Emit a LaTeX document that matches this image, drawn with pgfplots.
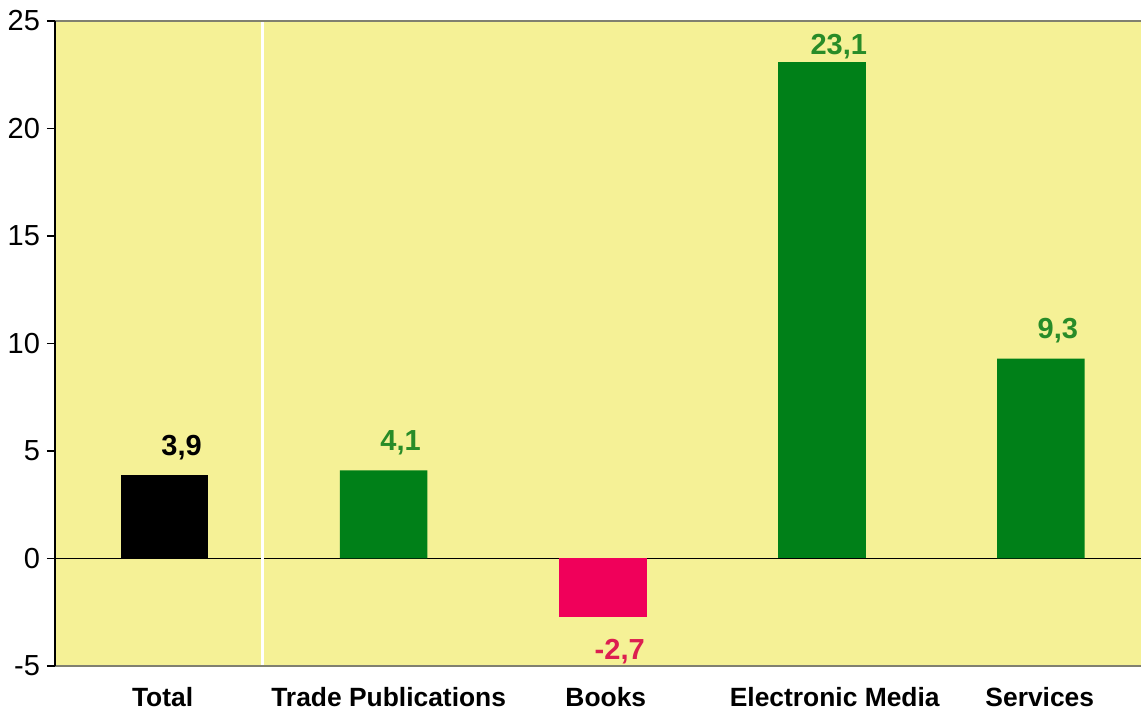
\documentclass[border=0pt]{standalone}
\usepackage{pgfplots}
\pgfplotsset{compat=1.18}
\usepackage{fontspec}
\setmainfont{Liberation Sans}
\definecolor{bg}{RGB}{245,241,150}
\definecolor{bargreen}{RGB}{0,128,24}
\definecolor{barpink}{RGB}{240,0,90}
\definecolor{txtgreen}{RGB}{40,140,40}
\definecolor{txtred}{RGB}{220,30,80}
\definecolor{bordergray}{RGB}{128,128,112}
\begin{document}
\begin{tikzpicture}
\begin{axis}[
  scale only axis, width=543pt, height=322.5pt,
  xmin=-0.5, xmax=4.457, ymin=-5, ymax=25,
  ytick={-5,0,...,25},
  xtick={-0.009,1.023,2.014,3.059,3.995},
  xticklabels={Total, Trade Publications, Books, Electronic Media, Services},
  xticklabel style={font=\bfseries\fontsize{13.2}{15}\selectfont, yshift=-3pt},
  yticklabel style={font=\fontsize{14.5}{16}\selectfont},
  /pgf/number format/assume math mode=true,
  x tick style={draw=none},
  y tick style={black, line width=0.6pt},
  tick align=outside, major tick length=4pt,
  axis line style={draw=none},
  axis background/.style={fill=bg},
  clip=false,
  nodes near coords,
  point meta=explicit symbolic,
  every node near coord/.append style={font=\bfseries\fontsize{14.5}{16}\selectfont, xshift=8.5pt, yshift=4pt},
]
\draw[black, line width=0.6pt] (axis cs:-0.5,0) -- (axis cs:4.457,0);
\addplot[ybar, bar width=0.4, fill=black, draw=none, bar shift=0pt,
  every node near coord/.append style={text=black}] coordinates {(0,3.9) [3,9]};
\addplot[ybar, bar width=0.4, fill=bargreen, draw=none, bar shift=0pt,
  every node near coord/.append style={text=txtgreen}] coordinates {(1,4.1) [4,1] (4,9.3) [9,3]};
\addplot[ybar, bar width=0.4, fill=bargreen, draw=none, bar shift=0pt,
  every node near coord/.append style={text=txtgreen, yshift=-6pt}] coordinates {(3,23.1) [23,1]};
\addplot[ybar, bar width=0.4, fill=barpink, draw=none, bar shift=0pt,
  every node near coord/.append style={text=txtred, anchor=north, yshift=-12pt}] coordinates {(2,-2.7) [-2,7]};
\draw[white, line width=1.8pt] (axis cs:0.447,-5) -- (axis cs:0.447,25);
\draw[bordergray, line width=1.2pt] (axis cs:-0.5,25) -- (axis cs:4.457,25);
\draw[bordergray, line width=1.2pt] (axis cs:-0.5,-5) -- (axis cs:4.457,-5);
\draw[black, line width=1pt] (axis cs:-0.5,-5) -- (axis cs:-0.5,25);
\end{axis}
\pgfresetboundingbox
\path (current axis.south west) ++(-27.5pt,-21.5pt) coordinate (bbA);
\path (current axis.north east) ++(0pt,10.5pt) coordinate (bbB);
\useasboundingbox (bbA) rectangle (bbB);
\end{tikzpicture}
\end{document}
